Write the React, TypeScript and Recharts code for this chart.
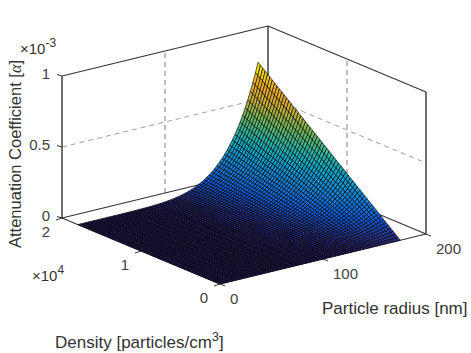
import { Scatter, ScatterChart, XAxis, YAxis } from "recharts";

// particle radius [nm]
const radii = [
  0, 2.5, 5, 7.5, 10, 12.5, 15, 17.5, 20, 22.5, 25, 27.5, 30, 32.5, 35, 37.5, 40, 42.5, 45, 47.5, 50, 52.5, 55, 57.5,
  60, 62.5, 65, 67.5, 70, 72.5, 75, 77.5, 80, 82.5, 85, 87.5, 90, 92.5, 95, 97.5, 100, 102.5, 105, 107.5, 110, 112.5,
  115, 117.5, 120, 122.5, 125, 127.5, 130, 132.5, 135, 137.5, 140, 142.5, 145, 147.5, 150, 152.5, 155, 157.5, 160,
  162.5, 165, 167.5, 170, 172.5, 175,
];

// attenuation (x 1e-3) along the far edge of the surface, one value per radius
const edgeAttenuation = [
  0, 0, 0, 0, 0, 0, 0, 0, 0, 0, 0.00001, 0.00001, 0.00002, 0.00003, 0.00005, 0.00008, 0.00012, 0.00017, 0.00024,
  0.00033, 0.00045, 0.00061, 0.00081, 0.00105, 0.00136, 0.00173, 0.00219, 0.00275, 0.00342, 0.00422, 0.00517, 0.0063,
  0.00762, 0.00917, 0.01096, 0.01305, 0.01545, 0.01821, 0.02137, 0.02497, 0.02907, 0.03371, 0.03896, 0.04487, 0.0515,
  0.05894, 0.06724, 0.0765, 0.0868, 0.09824, 0.1109, 0.1249, 0.1403, 0.1573, 0.176, 0.1965, 0.2189, 0.2434, 0.2702,
  0.2994, 0.3311, 0.3657, 0.4031, 0.4438, 0.4877, 0.5353, 0.5866, 0.642, 0.7018, 0.766, 0.835,
];

// density [particles/cm3]
const densities = [
  0, 300, 600, 900, 1200, 1500, 1800, 2100, 2400, 2700, 3000, 3300, 3600, 3900, 4200, 4500, 4800, 5100, 5400, 5700,
  6000, 6300, 6600, 6900, 7200, 7500, 7800, 8100, 8400, 8700, 9000, 9300, 9600, 9900, 10200, 10500, 10800, 11100,
  11400, 11700, 12000, 12300, 12600, 12900, 13200, 13500, 13800, 14100, 14400, 14700, 15000, 15300, 15600, 15900,
  16200, 16500, 16800, 17100, 17400, 17700, 18000,
];

const zTicks = [0, 0.5, 1];
const radiusTicks = [0, 100, 200];
const densityTicks = [0, 1, 2];

const parula = ["#352a87", "#0f5cdd", "#1481d6", "#06a4ca", "#2eb7a4", "#6fb858", "#c9b038", "#f0a828", "#f4e40c"];

const R_MAX = 200;
const N_MAX = 20000;

// orthographic view: the chart's x/y domain is the picture itself
const project = (r: number, n: number, z: number) => ({
  x: 220 + (206 * r) / R_MAX - (158 * n) / N_MAX,
  y: 284 - (50 * r) / R_MAX - (66 * n) / N_MAX - 142 * z,
});

function colorAt(t: number) {
  const p = Math.min(0.9999, Math.max(0, t)) * (parula.length - 1);
  const i = Math.floor(p);
  const a = parula[i];
  const b = parula[i + 1];
  const mix = (s: number) => {
    const c0 = parseInt(a.slice(s, s + 2), 16);
    const c1 = parseInt(b.slice(s, s + 2), 16);
    return Math.round(c0 + (c1 - c0) * (p - i));
  };
  return `rgb(${mix(1)},${mix(3)},${mix(5)})`;
}

const lastN = densities[densities.length - 1];
const zMax = edgeAttenuation[edgeAttenuation.length - 1];
const zAt = (i: number, j: number) => (edgeAttenuation[j] * densities[i]) / lastN;

// back to front so nearer cells paint over farther ones
const cells: any[] = [];
for (let i = densities.length - 2; i >= 0; i--) {
  for (let j = radii.length - 2; j >= 0; j--) {
    const corners = [
      project(radii[j], densities[i], zAt(i, j)),
      project(radii[j + 1], densities[i], zAt(i, j + 1)),
      project(radii[j + 1], densities[i + 1], zAt(i + 1, j + 1)),
      project(radii[j], densities[i + 1], zAt(i + 1, j)),
    ];
    cells.push({ x: corners[0].x, y: corners[0].y, corners, fill: colorAt(zAt(i + 1, j + 1) / zMax) });
  }
}

function CellShape({ cx, cy, payload }: any) {
  const pts = payload.corners.map((c: any) => `${cx + c.x - payload.x},${cy + c.y - payload.y}`).join(" ");
  return <polygon points={pts} fill={payload.fill} stroke="#000" strokeOpacity={0.8} strokeWidth={0.8} />;
}

const seg = (a: number[], b: number[]) => [project(a[0], a[1], a[2]), project(b[0], b[1], b[2])];

const frameLines = [
  seg([0, N_MAX, 0], [0, N_MAX, 1]),
  seg([R_MAX, N_MAX, 0], [R_MAX, N_MAX, 1]),
  seg([R_MAX, 0, 0], [R_MAX, 0, 1]),
  seg([0, N_MAX, 1], [R_MAX, N_MAX, 1]),
  seg([R_MAX, N_MAX, 1], [R_MAX, 0, 1]),
  seg([0, N_MAX, 0], [R_MAX, N_MAX, 0]),
  seg([R_MAX, N_MAX, 0], [R_MAX, 0, 0]),
  seg([0, 0, 0], [0, N_MAX, 0]),
  seg([0, 0, 0], [R_MAX, 0, 0]),
];

const gridLines = [
  seg([100, N_MAX, 0], [100, N_MAX, 1]),
  seg([R_MAX, 10000, 0], [R_MAX, 10000, 1]),
  seg([0, N_MAX, 0.5], [R_MAX, N_MAX, 0.5]),
  seg([R_MAX, N_MAX, 0.5], [R_MAX, 0, 0.5]),
];

const shifted = (p: { x: number; y: number }, dx: number, dy: number) => ({ x: p.x + dx, y: p.y + dy });
const tickMarks = [
  ...zTicks.map((z) => {
    const p = project(0, N_MAX, z);
    return [p, shifted(p, -5, -1.5)];
  }),
  ...radiusTicks.map((r) => {
    const p = project(r, 0, 0);
    return [p, shifted(p, 5, 2)];
  }),
  ...densityTicks.map((n) => {
    const p = project(0, n * 10000, 0);
    return [p, shifted(p, -6, 2)];
  }),
];

const tickLabels = [
  ...zTicks.map((z) => {
    const p = project(0, N_MAX, z);
    return { ...shifted(p, -12, 3), text: String(z), anchor: "end" };
  }),
  ...radiusTicks.map((r) => {
    const p = project(r, 0, 0);
    return { ...shifted(p, 10, 20), text: String(r), anchor: "start" };
  }),
  ...densityTicks.map((n) => {
    const p = project(0, n * 10000, 0);
    return { ...shifted(p, -16, 18.5), text: String(n), anchor: "middle" };
  }),
];

function TickText({ cx, cy, payload }: any) {
  return (
    <text x={cx} y={cy} textAnchor={payload.anchor} fontFamily="Liberation Sans" fontSize={15} fill="#404040">
      {payload.text}
    </text>
  );
}

const hidden = () => <g />;
const titleStyle = { fontFamily: "Liberation Sans", fontSize: 17, fill: "#333" };

export default function App() {
  return (
    <div style={{ position: "absolute", left: 0, top: 0, width: 471, height: 353, background: "#fff" }}>
      <ScatterChart width={471} height={353} margin={{ top: 0, right: 0, bottom: 0, left: 0 }}>
        <XAxis dataKey="x" type="number" domain={[0, 471]} hide />
        <YAxis dataKey="y" type="number" domain={[0, 353]} reversed hide />
        {gridLines.map((d, i) => (
          <Scatter key={`g${i}`} data={d} shape={hidden} isAnimationActive={false} stroke="#a0a0a0" line={{ stroke: "#a0a0a0", strokeWidth: i < 2 ? 1.4 : 1, strokeDasharray: "5 4" }} />
        ))}
        {frameLines.map((d, i) => (
          <Scatter key={`f${i}`} data={d} shape={hidden} isAnimationActive={false} stroke="#333" line={{ stroke: "#333", strokeWidth: i < 3 ? 1.4 : 1.1 }} />
        ))}
        {tickMarks.map((d, i) => (
          <Scatter key={`t${i}`} data={d} shape={hidden} isAnimationActive={false} stroke="#333" line={{ stroke: "#333", strokeWidth: 1 }} />
        ))}
        <Scatter data={cells} shape={CellShape} isAnimationActive={false} />
        <Scatter data={tickLabels} shape={TickText} isAnimationActive={false} />
        <text x={20} y={54} {...titleStyle} fontSize={15}>
          ×10
          <tspan dy={-7} fontSize={12}>-3</tspan>
        </text>
        <text x={32} y={281} {...titleStyle} fontSize={15}>
          ×10
          <tspan dy={-7} fontSize={12}>4</tspan>
        </text>
        <text x={55} y={348} {...titleStyle}>
          Density [particles/cm
          <tspan dy={-7} fontSize={13}>3</tspan>
          <tspan dy={7}>]</tspan>
        </text>
        <text x={322} y={314} {...titleStyle}>Particle radius [nm]</text>
        <text transform="translate(21 248) rotate(-90)" {...titleStyle} fontSize={16.5}>
          Attenuation Coefficient [<tspan fontStyle="italic" fontFamily="Liberation Serif">α</tspan>]
        </text>
      </ScatterChart>
    </div>
  );
}
